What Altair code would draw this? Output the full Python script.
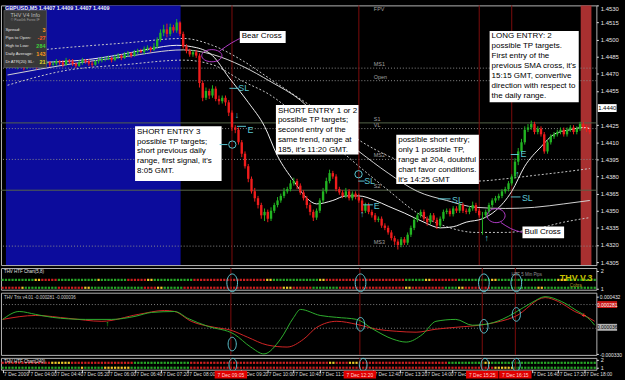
import altair as alt
import pandas as pd

# ---------------------------------------------------------------------------
# GBPUSD M5, 7 Dec 2009. Bar index 0 = 03:20, one bar per 5 minutes.
# Candle prices are stored as pips above BASE.
BASE = 1.4310
OPEN_FIRST = 166
close_p = [
    167, 168, 166, 169, 167, 165, 168, 169, 167, 166,
    168, 169, 170, 168, 169, 171, 170, 168, 172, 171,
    169, 167, 170, 172, 171, 169, 168, 171, 172, 173,
    173, 174, 172, 175, 176, 174, 177, 178, 176, 179,
    180, 179, 182, 183, 181, 184, 190, 196, 199, 195,
    201, 198, 205, 195, 184, 180, 177, 179, 176, 152,
    139, 145, 141, 147, 138, 136, 139, 135, 126, 113,
    111, 100, 90, 79, 68, 57, 51, 45, 36, 39,
    33, 40, 45, 49, 53, 57, 59, 64, 66, 62,
    56, 51, 45, 39, 34, 40, 49, 57, 66, 73,
    70, 59, 56, 53, 57, 51, 55, 52, 49, 40,
    45, 39, 36, 32, 33, 27, 25, 21, 16, 13,
    10, 15, 12, 19, 25, 32, 36, 39, 33, 30,
    36, 32, 27, 33, 39, 40, 37, 42, 40, 45,
    40, 39, 42, 45, 40, 36, 36, 39, 45, 49,
    51, 53, 57, 59, 64, 70, 83, 92, 100, 111,
    113, 116, 109, 112, 107, 92, 100, 105, 107, 109,
    111, 107, 111, 113, 109, 112, 116, 113, 111, 109]
high_p = [
    169, 169, 170, 170, 172, 169, 169, 171, 170, 169,
    170, 170, 172, 171, 171, 173, 172, 172, 174, 173,
    173, 170, 172, 174, 173, 173, 171, 172, 174, 175,
    175, 176, 175, 177, 178, 177, 179, 180, 179, 181,
    182, 182, 184, 185, 184, 187, 192, 199, 203, 204,
    204, 203, 208, 206, 197, 186, 182, 181, 181, 178,
    154, 148, 147, 150, 149, 141, 141, 141, 137, 128,
    115, 113, 102, 92, 81, 70, 60, 53, 47, 42,
    41, 43, 47, 52, 55, 60, 61, 67, 69, 68,
    64, 58, 53, 47, 41, 42, 51, 60, 69, 76,
    75, 72, 61, 58, 60, 59, 57, 57, 55, 51,
    47, 47, 41, 38, 35, 35, 29, 27, 23, 18,
    15, 17, 17, 21, 27, 34, 38, 41, 41, 35,
    38, 38, 34, 35, 41, 42, 42, 44, 44, 47,
    47, 42, 44, 48, 47, 42, 39, 41, 47, 51,
    53, 55, 59, 61, 66, 72, 86, 95, 103, 114,
    116, 119, 118, 114, 114, 109, 102, 107, 109, 111,
    113, 113, 113, 115, 115, 114, 118, 118, 115, 113]
low_p = [
    165, 165, 165, 164, 166, 163, 164, 166, 166, 164,
    165, 166, 168, 166, 167, 167, 168, 166, 167, 169,
    167, 165, 166, 168, 169, 167, 166, 167, 169, 170,
    171, 172, 170, 171, 173, 172, 173, 175, 174, 175,
    177, 178, 177, 180, 179, 180, 182, 188, 193, 192,
    193, 196, 196, 193, 182, 178, 175, 175, 174, 148,
    136, 137, 138, 139, 136, 133, 134, 132, 123, 110,
    108, 98, 87, 77, 65, 55, 48, 42, 33, 31,
    30, 31, 38, 43, 47, 51, 55, 57, 62, 59,
    54, 49, 42, 36, 31, 32, 38, 47, 55, 64,
    68, 57, 54, 51, 51, 49, 49, 50, 47, 38,
    38, 37, 34, 30, 30, 25, 23, 19, 14, 10,
    6, 8, 10, 10, 17, 23, 30, 34, 31, 27,
    28, 30, 24, 25, 31, 37, 35, 35, 38, 38,
    38, 37, 37, 40, 38, 34, 19, 34, 37, 43,
    47, 49, 51, 55, 57, 62, 68, 80, 90, 98,
    109, 111, 107, 107, 105, 90, 90, 98, 103, 105,
    107, 105, 105, 109, 107, 107, 110, 111, 109, 107]

# Moving averages / envelopes (read at selected bars)
ma_bars = [0, 18, 36, 54, 63, 72, 81, 90, 99, 108, 117, 126, 135, 144, 153, 162, 171, 179]
sma_slow = [1.4469, 1.4478, 1.4485, 1.4491, 1.4487, 1.4477, 1.4463, 1.4447, 1.4422, 1.4402,
            1.4383, 1.4367, 1.4359, 1.4353, 1.4352, 1.4353, 1.4356, 1.4359]
env_upper = [1.4488, 1.4493, 1.4497, 1.4501, 1.4495, 1.4482, 1.4465, 1.4448, 1.4431, 1.4412,
             1.4398, 1.4388, 1.4379, 1.4376, 1.4378, 1.4381, 1.4384, 1.4387]
env_lower = [1.4460, 1.4473, 1.4478, 1.4482, 1.4478, 1.4464, 1.4451, 1.4431, 1.4411, 1.4389,
             1.4368, 1.4348, 1.4336, 1.4331, 1.4331, 1.4334, 1.4340, 1.4344]
fast_bars = [0, 11, 23, 35, 44, 52, 58, 63, 68, 74, 79, 83, 88, 92, 95, 100, 104, 108, 113, 117,
             122, 128, 133, 137, 141, 146, 150, 155, 159, 164, 168, 173, 177, 179]
sma_fast = [1.4478, 1.4480, 1.4482, 1.4487, 1.4492, 1.4495, 1.4493, 1.4486, 1.4467, 1.4445,
            1.4424, 1.4398, 1.4376, 1.4361, 1.4356, 1.4359, 1.4363, 1.4363, 1.4359, 1.4354,
            1.4348, 1.4340, 1.4335, 1.4336, 1.4340, 1.4343, 1.4350, 1.4367, 1.4389, 1.4406,
            1.4417, 1.4421, 1.4423, 1.4422]

# Pivot levels
pivot_names = ["FPV", "MS1", "Open", "S1", "VL", "MS2", "S2", "MS3"]
pivot_prices = [1.4523, 1.4475, 1.4464, 1.4427, 1.4422, 1.4395, 1.4368, 1.4319]
pivot_style = ["none", "dot", "dot", "solid", "dot", "dot", "solid", "dot"]
pivot_label_bar = 112.6

# right price scale (the 1.4440 level is covered by the current-price tag)
price_ticks = [1.4305, 1.4320, 1.4335, 1.4350, 1.4365, 1.4380, 1.4395, 1.4410,
               1.4425, 1.4455, 1.4470, 1.4485, 1.4500, 1.4515, 1.4530]
current_price = 1.4440
current_label = "1.4440"
session_bars = [-0.5, 53.2]
red_zone_bars = [176.2, 179.5]

event_bars = [69, 108, 145, 155]
event_labels = ["7 Dec 09:05", "7 Dec 12:20", "7 Dec 15:25", "7 Dec 16:15"]

# time labels that stay visible (the ones under the red event labels are hidden)
x_tick_bars = [0, 8, 16, 24, 32, 40, 48, 56, 72, 80, 88, 96, 112, 120, 128, 136, 160, 168, 176]
x_tick_labels = ["7 Dec 2009", "7 Dec 04:00", "7 Dec 04:40", "7 Dec 05:20", "7 Dec 06:00",
                 "7 Dec 06:40", "7 Dec 07:20", "7 Dec 08:00", "7 Dec 09:20",
                 "7 Dec 10:00", "7 Dec 10:40", "7 Dec 11:20", "7 Dec 12:40",
                 "7 Dec 13:20", "7 Dec 14:00", "7 Dec 14:40",
                 "7 Dec 16:40", "7 Dec 17:20", "7 Dec 18:00"]

# Text notes (box corners in bar / price units)
note_text = [
    "Bear Cross",
    "SHORT ENTRY 3\npossible TP targets;\nshort previous daily\nrange, first signal, it's\n8:05 GMT.",
    "SHORT ENTRY 1 or 2\npossible TP targets;\nsecond entry of the\nsame trend, range at\n185, it's 11:20 GMT.",
    "possible short entry;\nonly 1 possible TP,\nrange at 204, doubtful\nchart favor conditions.\nit's 14:25 GMT",
    "LONG ENTRY: 2\npossible TP targets.\nFirst entry of the\nprevious SMA cross, it's\n15:15 GMT, convertive\ndirection with respect to\nthe daily range.",
    "Bull Cross",
]
note_x0 = [71.4, 39.2, 82.5, 119.5, 148.2, 158.3]
note_x1 = [85.5, 65.8, 107.9, 144.9, 175.6, 171.1]
note_y0 = [1.45075, 1.4424, 1.44426, 1.44166, 1.45075, 1.43362]
note_y1 = [1.4497, 1.4376, 1.43993, 1.43734, 1.44452, 1.43258]

# Hand-drawn marks
cyan_text = ["SL", "\u2193", "E", "SL", "E", "\u2191", "SL", "SL", "E", "\u2191", "\u2191"]
cyan_text_bar = [72.6, 70.5, 74.7, 111.3, 113.5, 109.0, 138.3, 159.8, 158.6, 156.8, 147.3]
cyan_text_price = [1.44573, 1.44339, 1.4421, 1.43760, 1.43543, 1.43474, 1.43595, 1.43613,
                   1.43993, 1.4382, 1.43258]
cyan_dash_a = [68.2, 70.5, 65.2, 107.8, 109.3, 132.3, 154.7, 154.7]
cyan_dash_b = [71.1, 73.3, 67.6, 109.8, 112.3, 136.2, 157.7, 157.1]
cyan_dash_price = [1.44573, 1.4424, 1.4408, 1.43760, 1.43552, 1.43604, 1.43621, 1.43993]
cyan_ring_bar = [69.1, 107.9]
cyan_ring_price = [1.4408, 1.4382]
bear_ring = (62.8, 1.44859)
bull_ring = (150.2, 1.43457)
mag_line_group = ["bear", "bear", "bear", "bull", "bull", "bull"]
mag_line_bar = [65.2, 68.8, 71.4, 151.7, 154.7, 158.3]
mag_line_price = [1.4490, 1.4497, 1.4501, 1.43396, 1.43344, 1.43310]

info_labels = ["Spread:", "Pips to Open:", "High to Low:", "Daily Average:", "Dr ATR(20) SL:"]
info_values = ["3", "-27", "284", "143", "21"]
info_colors = ["#ff9a1e", "#ff5a28", "#3cd23c", "#ff9a1e", "#e6dc28"]

# HTF dot rows (run-length: colour, bars)
htf_top_runs = [("G", 10), ("Y", 2), ("R", 5), ("G", 12), ("Y", 1), ("G", 8), ("R", 6), ("Y", 2),
                ("G", 12), ("R", 22), ("Y", 2), ("G", 14), ("Y", 2), ("R", 24), ("G", 6), ("Y", 2),
                ("R", 8), ("G", 10), ("Y", 2), ("G", 18), ("Y", 3), ("G", 9)]
htf_bot_runs = [("R", 6), ("Y", 1), ("G", 10), ("R", 8), ("Y", 2), ("G", 16), ("R", 4), ("Y", 2),
                ("G", 6), ("R", 30), ("Y", 3), ("R", 6), ("G", 8), ("R", 20), ("Y", 2), ("R", 10),
                ("G", 4), ("Y", 2), ("R", 8), ("G", 14), ("Y", 2), ("G", 16)]
dot_top_runs = [("R", 15), ("Y", 6), ("R", 19), ("G", 17), ("R", 42), ("Y", 2), ("R", 4), ("Y", 3),
                ("R", 27), ("G", 11), ("Y", 2), ("G", 32)]
dot_bot_runs = [("G", 24), ("Y", 1), ("G", 6), ("Y", 8), ("G", 18), ("R", 92), ("Y", 6), ("G", 25)]

# Oscillator (values x 1e-6)
osc_green_bars = [0, 5, 10, 15, 25, 33, 40, 45, 52, 56, 62, 70, 75, 79, 84, 88, 90, 96, 101, 107,
                  112, 118, 122, 127, 131, 137, 142, 146, 151, 155, 160, 164, 169, 173, 178, 179]
osc_green_e6 = [112, 212, 175, 138, 112, 112, 150, 200, 212, 125, 25, -75, -238, -325, -138, 138,
                238, 162, 138, 112, -12, -138, -175, -75, 88, 112, 38, 50, 112, 200, 325, 400,
                338, 238, 88, 38]
osc_red_bars = [0, 10, 20, 30, 41, 49, 52, 57, 64, 69, 74, 80, 86, 91, 95, 101, 107, 113, 119,
                125, 131, 137, 146, 155, 164, 168, 173, 177, 179]
osc_red_e6 = [112, 162, 125, 88, 175, 225, 212, 88, 12, -25, -112, -212, -238, -138, 12, 88, 50,
              -12, -38, -50, -12, 12, 50, 150, 388, 338, 212, 138, 88]
osc_levels_e6 = [300, 0]
osc_tick_vals = [0.000405, -0.00033]
osc_tick_labels = ["0.000432", "-0.000330"]

# ---------------------------------------------------------------------------
W, H_MAIN, H_HTF, H_OSC, H_DOT = 603, 263, 22, 63, 12
FONT = "Liberation Sans"
CYAN = "#5cc6d2"
MAG = "#b23cc8"
EVENT = "#7e0c0c"
DOTC = alt.Scale(domain=["G", "R", "Y"], range=["#26a626", "#cc1e1e", "#f0c82a"])
XS = alt.Scale(domain=[-0.5, 179.5], nice=False, zero=False)
YS = alt.Scale(domain=[1.43024, 1.4530], nice=False, zero=False)
H_ELL = "M-1,0 A1,0.6 0 1,1 1,0 A1,0.6 0 1,1 -1,0 Z"
H_ELL2 = "M-1,0 A1,0.78 0 1,1 1,0 A1,0.78 0 1,1 -1,0 Z"
V_ELL = "M0,-1 A0.6,1 0 1,1 0,1 A0.6,1 0 1,1 0,-1 Z"

price_axis = alt.Axis(orient="right", values=price_ticks, format=".4f", labelFontSize=6,
                      labelColor="#e6e6e6", tickColor="#e6e6e6", tickSize=2, labelPadding=2,
                      domain=False, grid=False, labelFlush=True, labelOverlap=False, title=None)

labs = "[" + ",".join(f"'{s}'" for s in x_tick_labels) + "]"
x_axis = alt.Axis(orient="bottom", values=x_tick_bars,
                  labelExpr=f"{labs}[indexof({x_tick_bars}, datum.value)]",
                  labelAlign="left", labelBaseline="top", labelFontSize=4.9, labelColor="#dcdcdc",
                  tickColor="#dcdcdc", tickSize=3, labelPadding=-1, domain=False, grid=False,
                  labelOverlap=False, labelFlush=False, labelOffset=1, title=None)


def X(f, axis=None):
    return alt.X(f"{f}:Q", scale=XS, axis=axis)


def Y(f):
    return alt.Y(f"{f}:Q", scale=YS, axis=price_axis)


one = pd.DataFrame({"k": [0]})

# candles
open_p = [OPEN_FIRST] + close_p[:-1]
cdf = pd.DataFrame({
    "bar": list(range(len(close_p))),
    "o": [BASE + v / 1e4 for v in open_p],
    "h": [BASE + v / 1e4 for v in high_p],
    "l": [BASE + v / 1e4 for v in low_p],
    "c": [BASE + v / 1e4 for v in close_p],
    "dir": ["up" if c >= o else "dn" for o, c in zip(open_p, close_p)],
})
ccol = alt.Color("dir:N", scale=alt.Scale(domain=["up", "dn"], range=["#22b422", "#f01c1c"]), legend=None)
wicks = alt.Chart(cdf).mark_rule(strokeWidth=1).encode(x=X("bar"), y=Y("l"), y2="h", color=ccol)
bodies = alt.Chart(cdf).mark_bar(size=2.4).encode(x=X("bar"), y=Y("o"), y2="c", color=ccol)

zones = pd.DataFrame({"s": [session_bars[0]], "e": [session_bars[1]]})
blue = alt.Chart(zones).mark_rect(color="#0c0c9c").encode(x=X("s"), x2="e", y=alt.value(0), y2=alt.value(H_MAIN))
rz = pd.DataFrame({"s": [red_zone_bars[0]], "e": [red_zone_bars[1]]})
redz = alt.Chart(rz).mark_rect(color="#a83030").encode(x=X("s"), x2="e", y=alt.value(0), y2=alt.value(H_MAIN))

pv = pd.DataFrame({"name": pivot_names, "price": pivot_prices, "style": pivot_style,
                   "lb": [pivot_label_bar] * len(pivot_names)})
pv_dot = alt.Chart(pv[pv["style"] == "dot"]).mark_rule(color="#8c8c8c", strokeDash=[1, 2]).encode(y=Y("price"))
pv_sol = alt.Chart(pv[pv["style"] == "solid"]).mark_rule(color="#56664a").encode(y=Y("price"))
pv_txt = alt.Chart(pv).mark_text(fontSize=5.5, color="#a0a0a0", align="left", baseline="bottom", dy=-1).encode(
    x=X("lb"), y=Y("price"), text="name")

ev = pd.DataFrame({"bar": event_bars, "lab": event_labels,
                   "a": [b - 4.9 for b in event_bars], "b": [b + 4.9 for b in event_bars]})


def ev_rules(axis=None):
    return alt.Chart(ev).mark_rule(color=EVENT, strokeWidth=1).encode(x=X("bar", axis))


ma = pd.DataFrame({"bar": ma_bars, "slow": sma_slow, "up": env_upper, "lo": env_lower})
l_slow = alt.Chart(ma).mark_line(color="#d4d4d4", strokeWidth=1, interpolate="monotone").encode(x=X("bar"), y=Y("slow"))
l_up = alt.Chart(ma).mark_line(color="#c8c8c8", strokeWidth=1, strokeDash=[2, 2], interpolate="monotone").encode(x=X("bar"), y=Y("up"))
l_lo = alt.Chart(ma).mark_line(color="#c8c8c8", strokeWidth=1, strokeDash=[2, 2], interpolate="monotone").encode(x=X("bar"), y=Y("lo"))
fm = pd.DataFrame({"bar": fast_bars, "fast": sma_fast})
l_fast = alt.Chart(fm).mark_line(color="#f2f2f2", strokeWidth=1, interpolate="monotone").encode(x=X("bar"), y=Y("fast"))

notes = pd.DataFrame({"text": note_text, "x0": note_x0, "x1": note_x1, "y0": note_y0, "y1": note_y1})
n_box = alt.Chart(notes).mark_rect(color="white").encode(x=X("x0"), x2="x1", y=Y("y0"), y2="y1")
n_txt = alt.Chart(notes).mark_text(align="left", baseline="top", lineBreak="\n", fontSize=8.1,
                                   lineHeight=10, color="black", dx=2, dy=1.5).encode(
    x=X("x0"), y=Y("y0"), text="text")

ct = pd.DataFrame({"t": cyan_text, "bar": cyan_text_bar, "p": cyan_text_price})
c_txt = alt.Chart(ct).mark_text(color=CYAN, fontSize=9, align="center", baseline="middle").encode(
    x=X("bar"), y=Y("p"), text="t")
cd = pd.DataFrame({"a": cyan_dash_a, "b": cyan_dash_b, "p": cyan_dash_price})
c_dash = alt.Chart(cd).mark_rule(color=CYAN, strokeWidth=1).encode(x=X("a"), x2="b", y=Y("p"))
cr = pd.DataFrame({"bar": cyan_ring_bar, "p": cyan_ring_price})
c_ring = alt.Chart(cr).mark_point(shape="circle", filled=False, color=CYAN, size=55, strokeWidth=1, opacity=1).encode(
    x=X("bar"), y=Y("p"))

bear = pd.DataFrame({"bar": [bear_ring[0]], "p": [bear_ring[1]]})
bull = pd.DataFrame({"bar": [bull_ring[0]], "p": [bull_ring[1]]})
m_bear = alt.Chart(bear).mark_point(shape=H_ELL, filled=False, color=MAG, size=420, strokeWidth=1, opacity=1).encode(x=X("bar"), y=Y("p"))
m_bull = alt.Chart(bull).mark_point(shape=H_ELL2, filled=False, color=MAG, size=330, strokeWidth=1, opacity=1).encode(x=X("bar"), y=Y("p"))
ml = pd.DataFrame({"g": mag_line_group, "bar": mag_line_bar, "p": mag_line_price, "i": list(range(len(mag_line_bar)))})
m_line = alt.Chart(ml).mark_line(color=MAG, strokeWidth=1, interpolate="monotone").encode(
    x=X("bar"), y=Y("p"), detail="g", order="i")

# info panel + title
ui = [
    alt.Chart(one).mark_rect(color="#383838", stroke="#6a6a6a", strokeWidth=0.6).encode(
        x=alt.value(3), x2=alt.value(46), y=alt.value(5), y2=alt.value(63)),
    alt.Chart(one).mark_text(text="THV V4 Info", fontSize=5.5, color="#bcbcbc", align="center", baseline="middle").encode(
        x=alt.value(24.5), y=alt.value(10)),
    alt.Chart(one).mark_text(text="\u00a9 Paw0rk Forex IF", fontSize=3.5, color="#a0a0a0", align="center", baseline="middle").encode(
        x=alt.value(24.5), y=alt.value(15)),
    alt.Chart(one).mark_text(text="GBPUSD,M5  1.4407 1.4409 1.4407 1.4409", fontSize=5.5, fontWeight="bold",
                             color="#f0f0f0", align="left", baseline="top").encode(x=alt.value(4), y=alt.value(0.5)),
]
for i, (lab, val, col) in enumerate(zip(info_labels, info_values, info_colors)):
    yy = 24.5 + 8.2 * i
    ui.append(alt.Chart(one).mark_text(text=lab, fontSize=4.3, color="#e0e0e0", align="left", baseline="middle").encode(
        x=alt.value(4.5), y=alt.value(yy)))
    ui.append(alt.Chart(one).mark_text(text=val, fontSize=5.5, fontWeight="bold", color=col, align="right", baseline="middle").encode(
        x=alt.value(45), y=alt.value(yy)))

tag = pd.DataFrame({"p": [current_price], "t": [current_label]})
tag_box = alt.Chart(tag).mark_tick(orient="horizontal", size=19, thickness=8, color="white", opacity=1).encode(
    x=alt.value(W + 11), y=Y("p"))
tag_txt = alt.Chart(tag).mark_text(fontSize=6, color="black", align="center", baseline="middle").encode(
    x=alt.value(W + 11), y=Y("p"), text="t")

main = alt.layer(blue, redz, pv_dot, pv_sol, pv_txt, ev_rules(), l_up, l_lo, l_slow, l_fast,
                 wicks, bodies, n_box, n_txt, c_dash, c_txt, c_ring, m_bear, m_bull, m_line,
                 *ui, tag_box, tag_txt).properties(width=W, height=H_MAIN)


def expand(runs):
    out = []
    for c, k in runs:
        out += [c] * k
    return out


# ---- HTF panel
HS = alt.Scale(domain=[0.9444, 2.1667], nice=False, zero=False)
small_axis = dict(orient="right", values=[1, 2], format="d", labelFontSize=5.5, labelColor="#e6e6e6",
                  tickColor="#e6e6e6", tickSize=2, labelPadding=2, domain=False, grid=False, title=None)
top = expand(htf_top_runs)
bot = expand(htf_bot_runs)
hdf = pd.DataFrame({"bar": list(range(len(top))) * 2, "row": [1.5] * len(top) + [1.0556] * len(bot),
                    "c": top + bot})
h_dots = alt.Chart(hdf).mark_square(size=5, opacity=1).encode(
    x=X("bar"), y=alt.Y("row:Q", scale=HS, axis=alt.Axis(**small_axis)),
    color=alt.Color("c:N", scale=DOTC, legend=None))
hr = pd.DataFrame({"bar": [69.4, 108.2, 145.5, 155.3], "row": [1.333] * 4})
h_rings = alt.Chart(hr).mark_point(shape=V_ELL, filled=False, color=CYAN, size=324, strokeWidth=1, opacity=1).encode(
    x=X("bar"), y=alt.Y("row:Q", scale=HS, axis=alt.Axis(**small_axis)))
h_txt = [
    alt.Chart(one).mark_text(text="THV HTF Chart(5,8)", fontSize=4.5, color="#e0e0e0", align="left", baseline="top").encode(
        x=alt.value(3), y=alt.value(1.5)),
    alt.Chart(one).mark_text(text="HTF 5 Min Pips", fontSize=4.5, color="#909090", align="left", baseline="middle").encode(
        x=alt.value(517), y=alt.value(7)),
    alt.Chart(one).mark_text(text="THV V.3", fontSize=9, fontWeight="bold", color="#c8c000", align="left", baseline="middle").encode(
        x=alt.value(566), y=alt.value(10)),
    alt.Chart(one).mark_text(text="Cobra", fontSize=4.5, color="#a09a20", align="left", baseline="middle").encode(
        x=alt.value(576), y=alt.value(18.5)),
]
htf = alt.layer(h_dots, ev_rules(), h_rings, *h_txt).properties(width=W, height=H_HTF)

# ---- Oscillator panel
OS = alt.Scale(domain=[-0.0003375, 0.00045], nice=False, zero=False)
osc_axis = alt.Axis(orient="right", values=osc_tick_vals,
                    labelExpr=f"datum.value > 0 ? '{osc_tick_labels[0]}' : '{osc_tick_labels[1]}'",
                    labelFontSize=5, labelColor="#e6e6e6", tickColor="#e6e6e6", tickSize=2, labelPadding=1,
                    domain=False, grid=False, labelOverlap=False, title=None)


def OY(f):
    return alt.Y(f"{f}:Q", scale=OS, axis=osc_axis)


og = pd.DataFrame({"bar": osc_green_bars, "v": [v * 1e-6 for v in osc_green_e6]})
orr = pd.DataFrame({"bar": osc_red_bars, "v": [v * 1e-6 for v in osc_red_e6]})
olv = pd.DataFrame({"v": [v * 1e-6 for v in osc_levels_e6]})
o_lv = alt.Chart(olv).mark_rule(color="#808080", strokeDash=[1, 2]).encode(y=OY("v"))
o_g = alt.Chart(og).mark_line(color="#2fb02f", strokeWidth=1, interpolate="monotone").encode(x=X("bar"), y=OY("v"))
o_r = alt.Chart(orr).mark_line(color="#d42626", strokeWidth=1, interpolate="monotone").encode(x=X("bar"), y=OY("v"))
orings = pd.DataFrame({"bar": [69.4, 108.2, 145.5, 155.3], "v": [-200e-6, 50e-6, 25e-6, 175e-6]})
o_ring = alt.Chart(orings).mark_point(shape=V_ELL, filled=False, color=CYAN, size=190, strokeWidth=1, opacity=1).encode(
    x=X("bar"), y=OY("v"))
omk = pd.DataFrame({"bar": [31.7, 175.6], "v": [50e-6, 150e-6], "t": ["\u2191", "+"], "col": ["#30e030", "#ff3030"]})
o_mk = alt.Chart(omk).mark_text(fontSize=7, fontWeight="bold", align="center", baseline="middle").encode(
    x=X("bar"), y=OY("v"), text="t", color=alt.Color("col:N", scale=None))
obox = pd.DataFrame({"v": [300e-6, 12e-6], "t": ["0.000281", "0.000036"], "col": ["#c81414", "#b4b4b4"],
                     "tc": ["white", "black"]})
o_box = alt.Chart(obox).mark_tick(orient="horizontal", size=20, thickness=7, opacity=1).encode(
    x=alt.value(W + 11), y=OY("v"), color=alt.Color("col:N", scale=None))
o_boxt = alt.Chart(obox).mark_text(fontSize=5, align="center", baseline="middle").encode(
    x=alt.value(W + 11), y=OY("v"), text="t", color=alt.Color("tc:N", scale=None))
o_lab = alt.Chart(one).mark_text(text="THV Trix v4.01 -0.000281 -0.000036", fontSize=4.5, color="#d0d0d0",
                                 align="left", baseline="top").encode(x=alt.value(3), y=alt.value(2))
osc = alt.layer(o_lv, ev_rules(), o_r, o_g, o_ring, o_mk, o_box, o_boxt, o_lab).properties(width=W, height=H_OSC)

# ---- Bottom dot panel with time axis (every x encoding carries the same axis)
DS = alt.Scale(domain=[0.75, 2.25], nice=False, zero=False)
dtop = expand(dot_top_runs)
dbot = expand(dot_bot_runs)
ddf = pd.DataFrame({"bar": list(range(len(dtop))) * 2, "row": [1.625] * len(dtop) + [1.0] * len(dbot),
                    "c": dtop + dbot})
d_dots = alt.Chart(ddf).mark_square(size=5, opacity=1).encode(
    x=X("bar", x_axis), y=alt.Y("row:Q", scale=DS, axis=alt.Axis(**small_axis)),
    color=alt.Color("c:N", scale=DOTC, legend=None))
dr = pd.DataFrame({"bar": [69.6, 109.0, 145.8, 155.3], "row": [1.375] * 4})
d_ring = alt.Chart(dr).mark_point(shape=V_ELL, filled=False, color=CYAN, size=170, strokeWidth=1, opacity=1).encode(
    x=X("bar", x_axis), y=alt.Y("row:Q", scale=DS, axis=alt.Axis(**small_axis)))
d_lab = alt.Chart(one).mark_text(text="THV HTF Chart(240)", fontSize=4.5, color="#e0e0e0", align="left",
                                 baseline="top").encode(x=alt.value(3), y=alt.value(1))
d_evbox = alt.Chart(ev).mark_rect(color="#e00000").encode(
    x=X("a", x_axis), x2="b", y=alt.value(H_DOT + 1), y2=alt.value(H_DOT + 9))
d_evtxt = alt.Chart(ev).mark_text(fontSize=5.0, color="#ffd0d0", align="center", baseline="middle").encode(
    x=X("bar", x_axis), y=alt.value(H_DOT + 5), text="lab")
dots = alt.layer(d_dots, ev_rules(x_axis), d_ring, d_lab, d_evbox, d_evtxt).properties(width=W, height=H_DOT)

chart = (
    alt.vconcat(main, htf, osc, dots, spacing=3, bounds="flush")
    .resolve_scale(x="independent", y="independent", color="independent")
    .properties(padding={"left": 0, "top": 2, "right": 2, "bottom": 1}, background="black")
    .configure(font=FONT)
    .configure_view(stroke="#b4b4b4", strokeWidth=1)
)

chart.save("out.html", embed_options={"renderer": "svg", "actions": False})
